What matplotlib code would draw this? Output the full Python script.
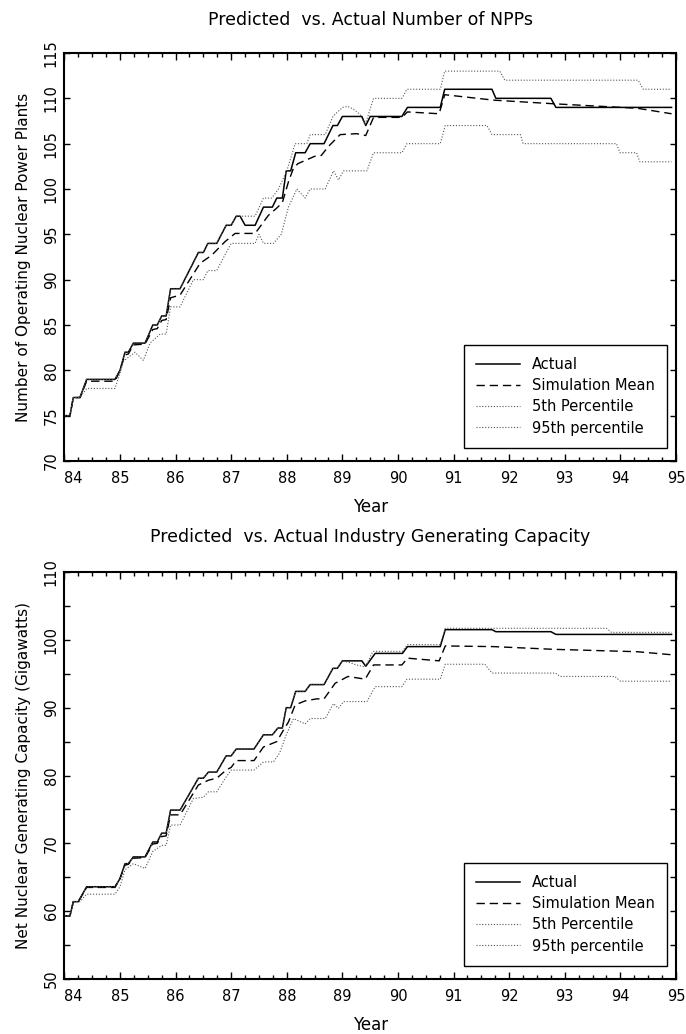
import matplotlib
matplotlib.use("Agg")
import matplotlib.pyplot as plt

plt.rcParams['font.family'] = ['DejaVu Sans']
plt.rcParams['font.size'] = 10.5

# ---------------- Top chart: number of operating NPPs ----------------
npp_actual_x = [84.00, 84.10, 84.16, 84.28, 84.40, 84.91, 85.00, 85.09, 85.15, 85.24, 85.45,
                85.59, 85.67, 85.75, 85.83, 85.91, 86.08, 86.41, 86.50, 86.58, 86.74, 86.91,
                87.00, 87.09, 87.16, 87.25, 87.43, 87.58, 87.74, 87.82, 87.92, 87.99, 88.07,
                88.16, 88.33, 88.42, 88.67, 88.83, 88.91, 89.00, 89.35, 89.42, 89.50, 90.07,
                90.17, 90.76, 90.84, 91.69, 91.76, 92.75, 92.84, 94.92]
npp_actual_y = [75, 75, 77, 77, 79, 79, 80, 82, 82, 83, 83,
                85, 85, 86, 86, 89, 89, 93, 93, 94, 94, 96,
                96, 97, 97, 96, 96, 98, 98, 99, 99, 102, 102,
                104, 104, 105, 105, 107, 107, 108, 108, 107, 108, 108,
                109, 109, 111, 111, 110, 110, 109, 109]

npp_mean_x = [84.00, 84.10, 84.16, 84.28, 84.40, 84.91, 85.00, 85.09, 85.15, 85.24, 85.45,
              85.59, 85.67, 85.75, 85.83, 85.91, 86.08, 86.44, 86.65, 86.89, 87.07, 87.43,
              87.67, 87.82, 87.92, 88.03, 88.12, 88.20, 88.50, 88.62, 88.75, 88.96, 89.26,
              89.42, 89.56, 90.07, 90.17, 90.74, 90.84, 91.72, 92.80, 94.31, 94.92]
npp_mean_y = [75, 75, 77, 77, 78.8, 78.8, 80, 81.7, 81.8, 82.8, 82.9,
              84.5, 84.6, 85.5, 85.6, 88.0, 88.3, 91.8, 92.7, 94.2, 95.1, 95.1,
              97.1, 97.9, 98.5, 100.8, 102.3, 102.8, 103.6, 103.7, 104.7, 106.0, 106.1,
              105.9, 107.9, 107.9, 108.5, 108.3, 110.4, 109.8, 109.4, 108.9, 108.3]

npp_p05_x = [84.00, 84.10, 84.16, 84.28, 84.40, 84.91, 85.00, 85.06, 85.27, 85.42, 85.54,
             85.72, 85.83, 85.91, 86.08, 86.32, 86.50, 86.58, 86.74, 86.91, 87.00, 87.43,
             87.50, 87.58, 87.76, 87.90, 88.03, 88.18, 88.33, 88.42, 88.69, 88.84, 88.93,
             89.02, 89.44, 89.56, 90.07, 90.16, 90.76, 90.85, 91.60, 91.69, 92.20, 92.25,
             93.93, 93.99, 94.29, 94.35, 94.92]
npp_p05_y = [75, 75, 77, 77, 78, 78, 79.7, 81, 82, 81.1, 83,
             84, 84, 87, 87, 90, 90, 91, 91, 93, 94, 94,
             95, 94, 94, 95, 98, 100, 99, 100, 100, 102, 101,
             102, 102, 104, 104, 105, 105, 107, 107, 106, 106, 105,
             105, 104, 104, 103, 103]

npp_p95_x = [84.00, 84.10, 84.16, 84.28, 84.40, 84.91, 85.00, 85.09, 85.15, 85.24, 85.45,
             85.59, 85.67, 85.75, 85.83, 85.91, 86.08, 86.41, 86.50, 86.58, 86.74, 86.91,
             87.00, 87.09, 87.43, 87.58, 87.73, 87.85, 88.00, 88.15, 88.36, 88.42, 88.69,
             88.83, 89.00, 89.10, 89.20, 89.32, 89.41, 89.56, 90.07, 90.16, 90.76, 90.84,
             91.83, 91.92, 94.32, 94.41, 94.92]
npp_p95_y = [75, 75, 77, 77, 79, 79, 80, 82, 82, 83, 83,
             85, 85, 86, 86, 89, 89, 93, 93, 94, 94, 96,
             96, 97, 97, 99, 99, 100, 102, 105, 105, 106, 106,
             108, 109, 109.1, 108.8, 108.2, 107.1, 110, 110, 111, 111, 113,
             113, 112, 112, 111, 111]

# ---------------- Bottom chart: net generating capacity (GW) ----------------
gw_actual_x = [84.00, 84.10, 84.16, 84.25, 84.40, 84.91, 85.00, 85.09, 85.15, 85.24, 85.45,
               85.59, 85.67, 85.75, 85.83, 85.91, 86.08, 86.41, 86.50, 86.59, 86.74, 86.91,
               87.00, 87.09, 87.41, 87.58, 87.74, 87.84, 87.92, 87.99, 88.07, 88.16, 88.33,
               88.42, 88.67, 88.83, 88.91, 89.00, 89.35, 89.42, 89.59, 90.08, 90.17, 90.76,
               90.85, 91.69, 91.76, 92.75, 92.84, 94.92]
gw_actual_y = [59.3, 59.3, 61.4, 61.4, 63.6, 63.6, 64.8, 67.0, 67.0, 68.0, 68.0,
               70.2, 70.2, 71.5, 71.5, 74.9, 74.9, 79.6, 79.6, 80.5, 80.5, 82.9,
               82.9, 83.9, 83.9, 86.0, 86.0, 87.0, 87.0, 90.0, 90.0, 92.4, 92.4,
               93.4, 93.4, 95.8, 95.8, 96.9, 96.9, 96.1, 98.0, 98.0, 99.0, 99.0,
               101.5, 101.5, 101.2, 101.2, 100.8, 100.8]

gw_mean_x = [84.00, 84.10, 84.16, 84.25, 84.40, 84.91, 85.00, 85.09, 85.15, 85.24, 85.45,
             85.59, 85.67, 85.75, 85.83, 85.91, 86.08, 86.41, 86.59, 86.74, 86.91, 87.00,
             87.09, 87.41, 87.58, 87.82, 87.94, 88.03, 88.15, 88.33, 88.54, 88.67, 88.87,
             89.10, 89.41, 89.56, 90.07, 90.17, 90.74, 90.85, 91.72, 92.80, 94.30, 94.92]
gw_mean_y = [59.3, 59.3, 61.4, 61.4, 63.5, 63.5, 64.8, 66.8, 66.9, 67.8, 67.9,
             69.9, 70.0, 71.0, 71.1, 74.2, 74.2, 78.6, 79.3, 79.6, 80.8, 81.2,
             82.2, 82.2, 84.2, 85.0, 86.7, 87.9, 90.4, 91.0, 91.3, 91.3, 93.6,
             94.6, 94.2, 96.3, 96.3, 97.3, 96.9, 99.1, 99.0, 98.6, 98.25, 97.8]

gw_p05_x = [84.00, 84.10, 84.16, 84.28, 84.40, 84.91, 85.00, 85.09, 85.24, 85.45, 85.59,
            85.75, 85.83, 85.91, 86.08, 86.32, 86.50, 86.59, 86.74, 86.91, 87.00, 87.41,
            87.58, 87.76, 87.87, 87.99, 88.12, 88.33, 88.42, 88.69, 88.84, 88.93, 89.02,
            89.44, 89.59, 90.07, 90.16, 90.76, 90.85, 91.56, 91.69, 92.83, 92.92, 93.90,
            94.00, 94.92]
gw_p05_y = [59.3, 59.3, 61.4, 61.4, 62.5, 62.5, 63.6, 66.1, 67.0, 66.3, 68.8,
            69.7, 69.7, 72.7, 72.7, 76.6, 76.8, 77.6, 77.6, 79.8, 80.8, 80.8,
            82.0, 82.0, 83.3, 86.0, 88.4, 87.6, 88.4, 88.4, 90.6, 89.9, 90.9,
            90.9, 93.1, 93.1, 94.2, 94.2, 96.4, 96.4, 95.1, 95.1, 94.6, 94.6,
            93.9, 93.9]

gw_p95_x = [84.00, 84.10, 84.16, 84.25, 84.40, 84.91, 85.00, 85.09, 85.15, 85.24, 85.45,
            85.59, 85.67, 85.75, 85.83, 85.91, 86.08, 86.41, 86.50, 86.59, 86.74, 86.91,
            87.00, 87.09, 87.41, 87.58, 87.74, 87.84, 87.92, 87.99, 88.07, 88.16, 88.33,
            88.42, 88.67, 88.83, 88.91, 89.00, 89.15, 89.25, 89.41, 89.55, 90.08, 90.17,
            90.76, 90.85, 93.75, 93.84, 94.92]
gw_p95_y = [59.3, 59.3, 61.4, 61.4, 63.6, 63.6, 64.8, 67.0, 67.0, 68.0, 68.0,
            70.2, 70.2, 71.5, 71.5, 74.9, 74.9, 79.6, 79.6, 80.5, 80.5, 82.9,
            82.9, 83.9, 83.9, 86.0, 86.0, 87.0, 87.0, 90.0, 90.0, 92.4, 92.4,
            93.4, 93.4, 95.8, 95.8, 96.9, 96.6, 96.3, 96.0, 98.3, 98.3, 99.3,
            99.3, 101.7, 101.7, 101.1, 101.1]

years = list(range(84, 96))
year_labels = [str(y) for y in years]
npp_yticks = list(range(70, 116, 5))
npp_ylabels = [str(v) for v in npp_yticks]
gw_yticks = list(range(50, 111, 5))
gw_ylabels = [str(v) if v % 10 == 0 else "" for v in gw_yticks]

legend_labels = ["Actual", "Simulation Mean", "5th Percentile", "95th percentile"]

W, H = 686, 1034
fig = plt.figure(figsize=(W / 100, H / 100), dpi=100)

def px_axes(l, t, r, b):
    return fig.add_axes([l / W, 1 - b / H, (r - l) / W, (b - t) / H])

SOLID = dict(color='black', lw=1.1, ls='-')
DASH = dict(color='black', lw=1.0, ls=(0, (6, 3.5)))
DOT = dict(color='#555555', lw=0.8, ls=(0, (1, 1.6)))

def style_axes(ax, yticks, ylabels, ylim, ylabel):
    ax.set_xlim(84, 95)
    ax.set_ylim(*ylim)
    ax.set_xticks(years)
    ax.set_xticks([84 + i / 4 for i in range(45)], minor=True)
    ax.set_xticklabels(year_labels)
    ax.set_yticks(yticks)
    ax.set_yticklabels(ylabels, rotation=90, va='center')
    tl = ax.get_xticklabels()
    tl[0].set_ha('left')
    ax.tick_params(axis='both', which='both', direction='in', top=True, right=True,
                   width=1.0, colors='black')
    ax.tick_params(axis='x', which='major', length=5, pad=7)
    ax.tick_params(axis='x', which='minor', length=3)
    ax.tick_params(axis='y', which='major', length=4.5, pad=4)
    for s in ax.spines.values():
        s.set_linewidth(1.5)
    ax.set_ylabel(ylabel, labelpad=9, fontsize=11)
    ax.set_xlabel("Year", labelpad=9, fontsize=12)

def draw(ax, series):
    handles = []
    for (x, y), st in zip(series, [SOLID, DASH, DOT, DOT]):
        h, = ax.plot(x, y, **st)
        handles.append(h)
    leg = ax.legend(handles, legend_labels, loc='lower right',
                    bbox_to_anchor=(0.985, 0.032), borderaxespad=0,
                    handlelength=3.0, handletextpad=0.8, labelspacing=0.42,
                    borderpad=0.85, fancybox=False, framealpha=1, edgecolor='black')
    leg.get_frame().set_linewidth(1.0)

ax1 = px_axes(64.4, 53, 676, 461)
draw(ax1, [(npp_actual_x, npp_actual_y), (npp_mean_x, npp_mean_y),
           (npp_p05_x, npp_p05_y), (npp_p95_x, npp_p95_y)])
style_axes(ax1, npp_yticks, npp_ylabels, (70, 115), "Number of Operating Nuclear Power Plants")
fig.text(370 / W, 1 - 20 / H, "Predicted  vs. Actual Number of NPPs", ha='center', va='center',
         fontsize=12.5)

ax2 = px_axes(64.4, 572, 676, 979)
draw(ax2, [(gw_actual_x, gw_actual_y), (gw_mean_x, gw_mean_y),
           (gw_p05_x, gw_p05_y), (gw_p95_x, gw_p95_y)])
style_axes(ax2, gw_yticks, gw_ylabels, (50, 110), "Net Nuclear Generating Capacity (Gigawatts)")
fig.text(370 / W, 1 - 537 / H, "Predicted  vs. Actual Industry Generating Capacity", ha='center',
         va='center', fontsize=12.5)

fig.savefig("out.png", dpi=100)
